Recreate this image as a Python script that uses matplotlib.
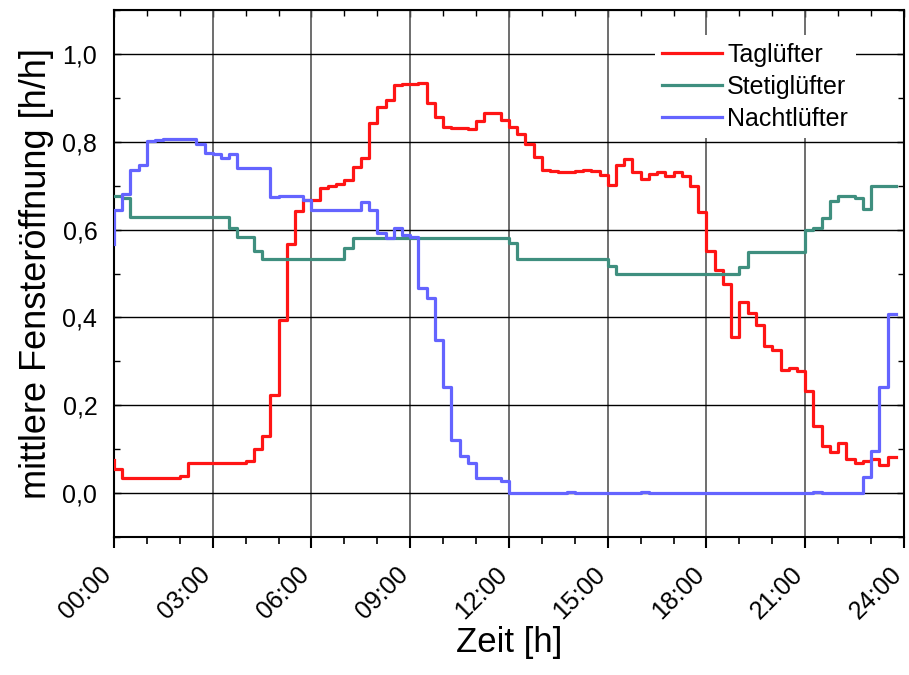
import matplotlib
matplotlib.use("Agg")
import matplotlib.pyplot as plt
import matplotlib.transforms as mtransforms
import numpy as np
from matplotlib.ticker import MultipleLocator

plt.rcParams["font.family"] = ["Liberation Sans", "DejaVu Sans"]

# time in hours, 15-min steps (Origin "step vert" style -> where='pre')
t = np.arange(96) * 0.25

tag = [0.075, 0.055,
       0.034, 0.034, 0.034, 0.034, 0.034, 0.034, 0.034, 0.039,
       0.068, 0.068, 0.068, 0.068, 0.068, 0.068, 0.068, 0.072,
       0.100, 0.129, 0.223, 0.394, 0.567, 0.642, 0.667, 0.667,
       0.695, 0.700, 0.703, 0.712, 0.742, 0.764, 0.842, 0.880,
       0.895, 0.930, 0.932, 0.932, 0.934, 0.889, 0.856, 0.833,
       0.831, 0.831, 0.830, 0.847, 0.865, 0.865, 0.850, 0.833,
       0.818, 0.794, 0.765, 0.736, 0.733, 0.731, 0.731, 0.733,
       0.735, 0.733, 0.725, 0.702, 0.746, 0.761, 0.731, 0.716,
       0.726, 0.731, 0.723, 0.730, 0.723, 0.700, 0.640, 0.551,
       0.509, 0.477, 0.356, 0.436, 0.410, 0.383, 0.335, 0.326,
       0.280, 0.284, 0.279, 0.233, 0.152, 0.108, 0.094, 0.114,
       0.078, 0.068, 0.073, 0.077, 0.064, 0.082]

stetig = [0.676, 0.676, 0.672,
          0.629, 0.629, 0.629, 0.629, 0.629, 0.629, 0.629, 0.629,
          0.629, 0.629, 0.629, 0.629, 0.604, 0.582, 0.582, 0.551,
          0.532, 0.532, 0.532, 0.532, 0.532, 0.532, 0.532, 0.532,
          0.532, 0.532, 0.559, 0.580, 0.580, 0.580, 0.580, 0.580,
          0.580, 0.580, 0.580, 0.580, 0.580, 0.580, 0.580, 0.580,
          0.580, 0.580, 0.580, 0.580, 0.580, 0.580, 0.570, 0.532,
          0.532, 0.532, 0.532, 0.532, 0.532, 0.532, 0.532, 0.532,
          0.532, 0.532, 0.517, 0.500, 0.500, 0.500, 0.500, 0.500,
          0.500, 0.500, 0.500, 0.500, 0.500, 0.500, 0.500, 0.500,
          0.500, 0.500, 0.515, 0.548, 0.548, 0.548, 0.548, 0.548,
          0.548, 0.548, 0.598, 0.604, 0.627, 0.665, 0.677, 0.677,
          0.672, 0.648, 0.700, 0.700, 0.700]

nacht = [0.568, 0.645, 0.682, 0.735, 0.748, 0.802, 0.805, 0.807,
         0.807, 0.807, 0.807, 0.795, 0.774, 0.773, 0.764, 0.773,
         0.741, 0.741, 0.741, 0.741, 0.674, 0.676, 0.676, 0.676,
         0.668, 0.644, 0.644, 0.644, 0.644, 0.644, 0.644, 0.663,
         0.644, 0.592, 0.581, 0.604, 0.587, 0.583, 0.467, 0.445,
         0.348, 0.242, 0.120, 0.085, 0.068, 0.034, 0.034, 0.034,
         0.027, 0.000, 0.000, 0.000, 0.000, 0.000, 0.000, 0.000,
         0.003, 0.000, 0.000, 0.000, 0.000, 0.000, 0.000, 0.000,
         0.000, 0.003, 0.000, 0.000, 0.000, 0.000, 0.000, 0.000,
         0.000, 0.000, 0.000, 0.000, 0.000, 0.000, 0.000, 0.000,
         0.000, 0.000, 0.000, 0.000, 0.000, 0.000, 0.003, 0.000,
         0.000, 0.000, 0.000, 0.000, 0.036, 0.095, 0.242, 0.408]

series = [("Taglüfter", tag, "#ff1515"),
          ("Stetiglüfter", stetig, "#3f8f7f"),
          ("Nachtlüfter", nacht, "#6464ff")]

xticks = [0, 3, 6, 9, 12, 15, 18, 21, 24]
xticklabels = ["00:00", "03:00", "06:00", "09:00", "12:00", "15:00",
               "18:00", "21:00", "24:00"]
yticks = [0.0, 0.2, 0.4, 0.6, 0.8, 1.0]
yticklabels = ["0,0", "0,2", "0,4", "0,6", "0,8", "1,0"]

fig = plt.figure(figsize=(9.09, 6.75), dpi=100)
ax = fig.add_axes([0.1254, 0.2044, 0.8691, 0.7808])

for label, vals, col in series:
    ax.step(t, vals, where="pre", color=col, lw=2.3, label=label, zorder=3)

ax.set_xlim(0, 24)
ax.set_ylim(-0.1, 1.1)
ax.set_xticks(xticks)
ax.set_xticklabels(xticklabels, rotation=45, ha="right", va="center",
                   rotation_mode="anchor", fontsize=18)
ax.set_yticks(yticks)
ax.set_yticklabels(yticklabels, fontsize=18)
ax.xaxis.set_minor_locator(MultipleLocator(1))
ax.yaxis.set_minor_locator(MultipleLocator(0.1))

ax.grid(True, axis="x", which="major", color="#555555", lw=1.2)
ax.grid(True, axis="y", which="major", color="black", lw=1.0)
ax.set_axisbelow(True)

ax.tick_params(axis="x", which="major", direction="out", length=8, width=1.5, pad=14)
ax.tick_params(axis="x", which="minor", direction="out", length=5, width=1.2)
ax.tick_params(axis="y", which="both", direction="in", right=True, width=1.0)
ax.tick_params(axis="y", which="major", length=5, pad=12)
ax.tick_params(axis="y", which="minor", length=4)

# nudge rotated labels a little to the left so 24:00 stays inside
shift = mtransforms.ScaledTranslation(-6 / 100, -3 / 100, fig.dpi_scale_trans)
for lbl in ax.get_xticklabels():
    lbl.set_transform(lbl.get_transform() + shift)

top = ax.secondary_xaxis("top")
top.set_xticks(xticks)
top.xaxis.set_minor_locator(MultipleLocator(1))
top.tick_params(which="both", direction="in", labeltop=False, width=1.0)
top.tick_params(which="major", length=5)
top.tick_params(which="minor", length=4)

for s in ax.spines.values():
    s.set_linewidth(1.5)

ax.set_xlabel("Zeit [h]", fontsize=25, labelpad=2)
ax.set_ylabel("mittlere Fensteröffnung [h/h]", fontsize=26, labelpad=6)

leg = ax.legend(loc="upper right", bbox_to_anchor=(0.945, 0.962), frameon=True,
                fontsize=18, handlelength=2.4, handletextpad=0.2,
                labelspacing=0.32, borderaxespad=0.2, borderpad=0.3)
leg.get_frame().set_edgecolor("none")
leg.get_frame().set_facecolor("white")
leg.get_frame().set_alpha(1.0)

fig.savefig("out.png", dpi=100)
